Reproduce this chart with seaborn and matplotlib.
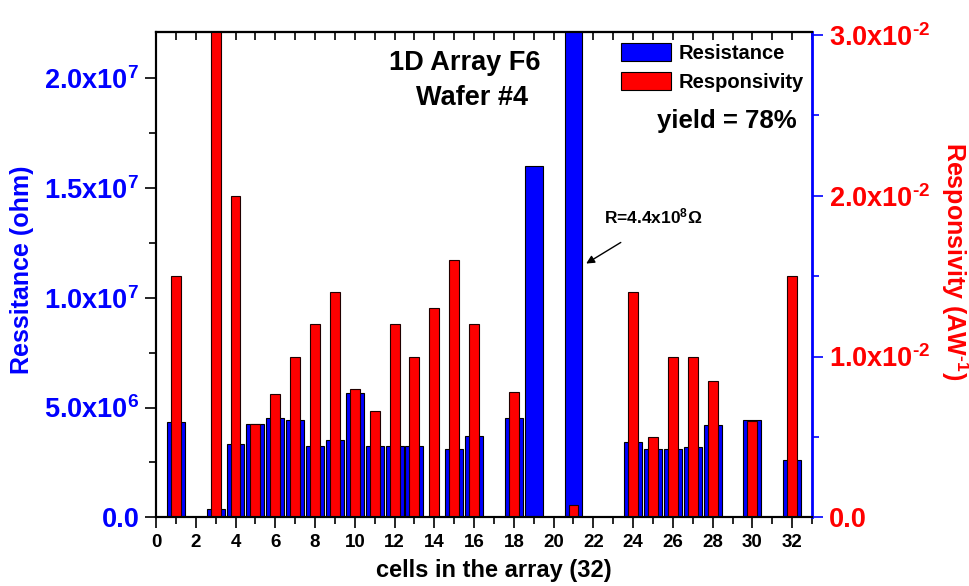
import matplotlib
matplotlib.use("Agg")
import matplotlib.pyplot as plt
from matplotlib.ticker import MultipleLocator, FuncFormatter
from matplotlib.patches import Patch
import seaborn as sns
import numpy as np

sns.set_style("ticks")
plt.rcParams["font.family"] = ["Liberation Sans", "DejaVu Sans"]
plt.rcParams["font.weight"] = "bold"
plt.rcParams["text.color"] = "black"
plt.rcParams["axes.labelcolor"] = "black"
plt.rcParams["xtick.color"] = "black"
plt.rcParams["ytick.color"] = "black"
plt.rcParams["axes.edgecolor"] = "black"
plt.rcParams["mathtext.fontset"] = "custom"
plt.rcParams["mathtext.rm"] = "Liberation Sans:bold"
plt.rcParams["mathtext.it"] = "Liberation Sans:bold"
plt.rcParams["mathtext.bf"] = "Liberation Sans:bold"
plt.rcParams["mathtext.sf"] = "Liberation Sans:bold"

# Resistance per cell (ohm); cell 21 is far off scale
res_cells = [1, 3, 4, 5, 6, 7, 8, 9, 10, 11, 12, 13, 15, 16, 18, 19, 21,
             24, 25, 26, 27, 28, 30, 32]
res_vals = [4.33e6, 4.0e5, 3.33e6, 4.23e6, 4.53e6, 4.44e6, 3.24e6, 3.53e6,
            5.64e6, 3.24e6, 3.24e6, 3.24e6, 3.12e6, 3.71e6, 4.53e6, 1.6e7,
            4.4e8, 3.44e6, 3.12e6, 3.12e6, 3.2e6, 4.21e6, 4.44e6, 2.62e6]

# Responsivity per cell (A/W)
rsp_cells = [1, 3, 4, 5, 6, 7, 8, 9, 10, 11, 12, 13, 14, 15, 16, 18, 21,
             24, 25, 26, 27, 28, 30, 32]
rsp_vals = [0.015, 0.0305, 0.020, 0.0058, 0.0077, 0.010, 0.012, 0.014,
            0.008, 0.0066, 0.012, 0.010, 0.013, 0.016, 0.012, 0.0078, 0.0008,
            0.014, 0.005, 0.010, 0.010, 0.0085, 0.006, 0.015]

x_ticks = list(range(0, 33, 2))

fig = plt.figure(figsize=(9.69, 5.86), dpi=100)
ax = fig.add_axes([0.161, 0.117, 0.677, 0.829])
ax2 = ax.twinx()

sns.barplot(x=res_cells, y=res_vals, native_scale=True, width=0.9,
            color="#0000ff", saturation=1, edgecolor="black", linewidth=0.8,
            errorbar=None, ax=ax)
sns.barplot(x=rsp_cells, y=rsp_vals, native_scale=True, width=0.5,
            color="#ff0000", saturation=1, edgecolor="#200000", linewidth=0.8,
            errorbar=None, ax=ax2)

ax.set_xlim(0, 33)
ax.set_ylim(0, 2.21e7)
ax2.set_ylim(0, 0.0302)


def sci_fmt(v, pos):
    if v == 0:
        return "0.0"
    e = int(np.floor(np.log10(abs(v)) + 1e-9))
    m = v / 10 ** e
    exp = str(e) if e >= 0 else r"\text{-}" + str(-e)
    return f"{m:.1f}x10$^{{{exp}}}$"


ax.set_xticks(x_ticks)
ax.set_xticklabels([str(t) for t in x_ticks])
ax.xaxis.set_minor_locator(MultipleLocator(1))
ax.yaxis.set_major_locator(MultipleLocator(5e6))
ax.yaxis.set_minor_locator(MultipleLocator(2.5e6))
ax.yaxis.set_major_formatter(FuncFormatter(sci_fmt))
ax2.yaxis.set_major_locator(MultipleLocator(0.01))
ax2.yaxis.set_minor_locator(MultipleLocator(0.005))
ax2.yaxis.set_major_formatter(FuncFormatter(sci_fmt))

ax.tick_params(axis="x", which="major", direction="out", length=8, width=1.2,
               labelsize=13.5, pad=4, colors="black")
ax.tick_params(axis="x", which="minor", direction="out", length=5, width=1.2)
ax.tick_params(axis="y", which="major", direction="out", length=8, width=1.2,
               labelsize=19.5, labelcolor="#0000ff", pad=4)
ax.tick_params(axis="y", which="minor", direction="out", length=5, width=1.2)
ax2.tick_params(axis="y", which="major", direction="out", length=8, width=1.2,
                color="#0000ff", labelsize=19.5, labelcolor="#ff0000", pad=4)
ax2.tick_params(axis="y", which="minor", direction="out", length=5, width=1.2,
                color="#0000ff")

top = ax.secondary_xaxis("top")
top.set_xticks(x_ticks)
top.xaxis.set_minor_locator(MultipleLocator(1))
top.tick_params(axis="x", which="both", direction="in", length=6, width=1.2,
                labeltop=False)
top.spines["top"].set_linewidth(1.5)

for a in (ax, ax2):
    for s in a.spines.values():
        s.set_linewidth(1.5)
ax.spines["right"].set_visible(False)
ax2.spines["right"].set_color("#0000ff")
ax2.spines["right"].set_linewidth(2)

ax.set_xlabel("cells in the array (32)", fontsize=17, fontweight="bold")
ax.xaxis.set_label_coords(0.515, -0.085)
ax.set_ylabel("Ressitance (ohm)", fontsize=18, fontweight="bold",
              color="#0000ff", va="center")
ax.yaxis.set_label_coords(-0.204, 0.51)
ax2.set_ylabel(r"Responsivity (AW$^{\text{-}1}$)", fontsize=18,
               fontweight="bold", color="#ff0000", rotation=270,
               va="center")
ax2.yaxis.set_label_coords(1.218, 0.527)

ax.text(0.471, 0.936, "1D Array F6", transform=ax.transAxes, ha="center",
        va="center", fontsize=19.5, fontweight="bold")
ax.text(0.482, 0.864, "Wafer #4", transform=ax.transAxes, ha="center",
        va="center", fontsize=19.5, fontweight="bold")
ax.text(0.870, 0.817, "yield = 78%", transform=ax.transAxes, ha="center",
        va="center", fontsize=18.5, fontweight="bold")

ax.text(25.0, 1.37e7, "R=4.4x10$^{8}$\u03a9", ha="center", va="center",
        fontsize=12.5, fontweight="bold")
ax.annotate("", xy=(21.64, 1.155e7), xytext=(23.38, 1.251e7),
            arrowprops=dict(arrowstyle="-|>", color="black", lw=1,
                            mutation_scale=12, shrinkA=0, shrinkB=0))

handles = [Patch(facecolor="#0000ff", edgecolor="black", linewidth=0.8),
           Patch(facecolor="#ff0000", edgecolor="black", linewidth=0.8)]
ax2.legend(handles, ["Resistance", "Responsivity"], loc="upper left",
           bbox_to_anchor=(0.709, 0.977), frameon=False, borderpad=0,
           borderaxespad=0, handlelength=2.5, handleheight=1.0,
           handletextpad=0.35, labelspacing=0.45,
           prop={"size": 14.5, "weight": "bold"})

fig.savefig("out.png", dpi=100)
